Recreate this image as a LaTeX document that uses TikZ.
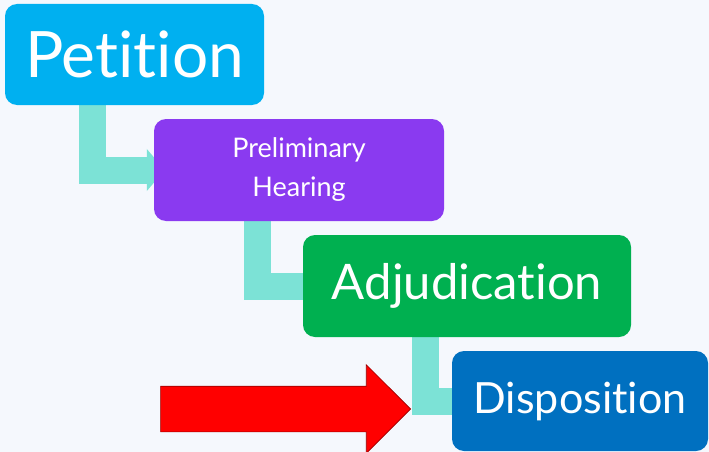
\documentclass[tikz,border=0pt]{standalone}
\usepackage{fontspec}
\setmainfont{Lato}[Ligatures=NoCommon]
\usetikzlibrary{arrows.meta,positioning,backgrounds,shapes.arrows}
\definecolor{petitioncyan}{RGB}{0,176,240}
\definecolor{hearingpurple}{RGB}{138,58,240}
\definecolor{adjudgreen}{RGB}{0,176,80}
\definecolor{dispoblue}{RGB}{0,112,192}
\definecolor{linkteal}{RGB}{124,226,214}
\definecolor{pagebg}{RGB}{245,248,253}

\begin{document}
\begin{tikzpicture}[
    x=1pt, y=-1pt,
    box/.style={rounded corners=12pt, inner sep=0pt, align=center, text=white},
    link/.style={draw=linkteal, line width=27pt, -{Triangle[width=41pt, length=18pt]}},
    pointer/.style={single arrow, fill=red, draw=red!60!black, line width=0.6pt, minimum height=250pt, text height=22.5pt, text depth=22.5pt, single arrow head extend=21.5pt, inner sep=0pt}
]
    \useasboundingbox (0,0) rectangle (709,452);

    % Boxes
    \node[box, fill=petitioncyan, minimum width=259pt, minimum height=101pt, font=\fontsize{64}{64}\selectfont] (petition) at (134.5,54.5) {Petition};
    \node[box, fill=hearingpurple, minimum width=290pt, minimum height=102pt, font=\fontsize{27}{39}\selectfont] (hearing) at (299,170) {Preliminary\\Hearing};
    \node[box, fill=adjudgreen, minimum width=328pt, minimum height=102pt, font=\fontsize{49}{49}\selectfont] (adjud) at (467,286) {Adjudication};
    \node[box, fill=dispoblue, minimum width=256pt, minimum height=100pt, font=\fontsize{43}{43}\selectfont] (dispo) at (580,401) {Disposition};

    % Red arrow
    \node[pointer, anchor=tip] (pointer) at (411,409) {};

    % Links behind the boxes
    \begin{scope}[on background layer]
        \fill[pagebg] (0,0) rectangle (709,452);
        \draw[link] ([xshift=-42pt]petition.south) |- ([xshift=11pt]hearing.west);
        \draw[link] ([xshift=-42pt]hearing.south) |- ([xshift=24pt]adjud.west);
        \draw[link] ([xshift=-41.5pt]adjud.south) |- ([xshift=24pt]dispo.west);
    \end{scope}
\end{tikzpicture}
\end{document}
